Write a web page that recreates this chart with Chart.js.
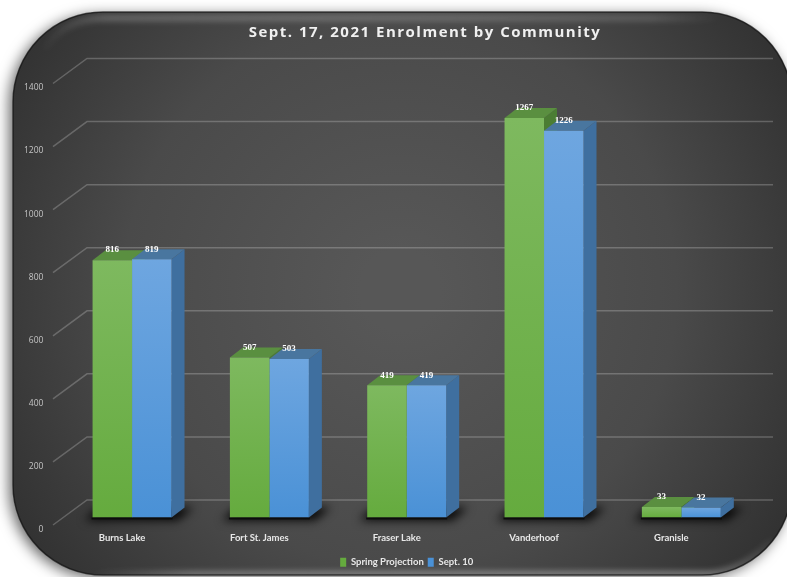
<!DOCTYPE html>
<html>
<head>
<meta charset="utf-8">
<title>Enrolment by Community</title>
<script src="https://cdn.jsdelivr.net/npm/chart.js@4"></script>
<style>
  html, body { margin: 0; padding: 0; background: #fff; overflow: hidden; }
  #myChart { display: block; filter: blur(0.5px); }
</style>
</head>
<body>
<canvas id="myChart" width="787" height="577"></canvas>
<script>
const chartTitle = "Sept. 17, 2021 Enrolment by Community";
const communities = ["Burns Lake", "Fort St. James", "Fraser Lake", "Vanderhoof", "Granisle"];
const springProjection = [816, 507, 419, 1267, 33];
const sept10 = [819, 503, 419, 1226, 32];
const yTicks = [0, 200, 400, 600, 800, 1000, 1200, 1400];

// depth of the fake 3d boxes
const depthX = 13;
const depthY = 10;

function cardPath(ctx) {
  const l = 13, t = 12, r = 792, b = 575, rad = 90;
  ctx.beginPath();
  ctx.moveTo(l + rad, t);
  ctx.arcTo(r, t, r, b, rad);
  ctx.arcTo(r, b, l, b, rad);
  ctx.arcTo(l, b, l, t, rad);
  ctx.arcTo(l, t, r, t, rad);
  ctx.closePath();
}

const cardPlugin = {
  id: "card",
  beforeDraw(chart) {
    const ctx = chart.ctx;
    ctx.save();
    ctx.shadowColor = "rgba(0,0,0,0.6)";
    ctx.shadowBlur = 14;
    ctx.shadowOffsetX = -4;
    ctx.shadowOffsetY = 3;
    cardPath(ctx);
    ctx.fillStyle = "#3a3a3a";
    ctx.fill();
    ctx.restore();

    ctx.save();
    cardPath(ctx);
    ctx.clip();
    const bg = ctx.createRadialGradient(400, 290, 40, 400, 290, 470);
    bg.addColorStop(0, "#575757");
    bg.addColorStop(0.55, "#4a4a4a");
    bg.addColorStop(1, "#2f2f2f");
    ctx.fillStyle = bg;
    ctx.fillRect(0, 0, 787, 577);

    // light bands along the top and bottom edge
    ctx.filter = "blur(3px)";
    ctx.lineWidth = 5;
    const topBand = ctx.createLinearGradient(40, 0, 720, 0);
    topBand.addColorStop(0, "rgba(255,255,255,0)");
    topBand.addColorStop(0.1, "rgba(255,255,255,0.3)");
    topBand.addColorStop(0.9, "rgba(255,255,255,0.22)");
    topBand.addColorStop(1, "rgba(255,255,255,0)");
    ctx.strokeStyle = topBand;
    ctx.beginPath();
    ctx.moveTo(44, 50);
    ctx.quadraticCurveTo(62, 19, 103, 18);
    ctx.lineTo(720, 18);
    ctx.stroke();
    ctx.lineWidth = 4;
    const bottomBand = ctx.createLinearGradient(90, 0, 780, 0);
    bottomBand.addColorStop(0, "rgba(255,255,255,0)");
    bottomBand.addColorStop(0.15, "rgba(255,255,255,0.45)");
    bottomBand.addColorStop(0.9, "rgba(255,255,255,0.55)");
    bottomBand.addColorStop(1, "rgba(255,255,255,0)");
    ctx.strokeStyle = bottomBand;
    ctx.beginPath();
    ctx.moveTo(95, 574);
    ctx.lineTo(710, 574);
    ctx.quadraticCurveTo(745, 570, 772, 540);
    ctx.stroke();
    ctx.restore();

    // dark rim on top
    ctx.save();
    ctx.strokeStyle = "rgba(20,20,20,0.7)";
    ctx.lineWidth = 1.5;
    cardPath(ctx);
    ctx.stroke();
    ctx.restore();
  },
  beforeDatasetsDraw(chart) {
    const ctx = chart.ctx;
    const y = chart.scales.y;
    ctx.save();

    // back wall lines and their diagonal floor part
    ctx.strokeStyle = "rgba(255,255,255,0.22)";
    ctx.lineWidth = 1.5;
    yTicks.forEach(function (v) {
      const py = y.getPixelForValue(v);
      ctx.beginPath();
      ctx.moveTo(53, py + 7.5);
      ctx.lineTo(87, py - 17.5);
      ctx.lineTo(773, py - 17.5);
      ctx.stroke();
    });

    // shadow on the floor
    const first = chart.getDatasetMeta(0).data;
    const second = chart.getDatasetMeta(1).data;
    first.forEach(function (bar, i) {
      const left = bar.x - bar.width / 2;
      const right = second[i].x + second[i].width / 2;
      ctx.save();
      ctx.filter = "blur(5px)";
      ctx.fillStyle = "rgba(0,0,0,0.9)";
      ctx.beginPath();
      ctx.moveTo(left - 8, bar.base + 3);
      ctx.lineTo(right + 6, bar.base + 3);
      ctx.lineTo(right + depthX + 9, bar.base - depthY);
      ctx.lineTo(left + 6, bar.base - depthY);
      ctx.closePath();
      ctx.fill();
      ctx.restore();
      ctx.fillStyle = "#0c0c0c";
      ctx.fillRect(left - 1, bar.base, right - left + 2, 2);
    });

    // side and top faces
    const faces = [
      { top: "#5a8f40", side: "#4b7d33", meta: first },
      { top: "#49769f", side: "#3f6f9f", meta: second }
    ];
    faces.forEach(function (f) {
      f.meta.forEach(function (bar) {
        const l = bar.x - bar.width / 2;
        const r = bar.x + bar.width / 2;
        ctx.fillStyle = f.side;
        ctx.beginPath();
        ctx.moveTo(r, bar.y);
        ctx.lineTo(r + depthX, bar.y - depthY);
        ctx.lineTo(r + depthX, bar.base - depthY);
        ctx.lineTo(r, bar.base);
        ctx.closePath();
        ctx.fill();
        ctx.fillStyle = f.top;
        ctx.beginPath();
        ctx.moveTo(l, bar.y);
        ctx.lineTo(l + depthX, bar.y - depthY);
        ctx.lineTo(r + depthX, bar.y - depthY);
        ctx.lineTo(r, bar.y);
        ctx.closePath();
        ctx.fill();
      });
    });
    ctx.restore();
  },
  afterDatasetsDraw(chart) {
    const ctx = chart.ctx;
    ctx.save();
    ctx.fillStyle = "#ffffff";
    ctx.textAlign = "center";
    ctx.textBaseline = "middle";
    ctx.font = "bold 9px 'Liberation Serif'";
    chart.data.datasets.forEach(function (ds, d) {
      chart.getDatasetMeta(d).data.forEach(function (bar, i) {
        ctx.fillText(ds.data[i], bar.x, bar.y - 10);
      });
    });
    // title, letter spaced like the original
    ctx.font = "bold 15px 'Open Sans'";
    ctx.letterSpacing = "1.5px";
    ctx.fillStyle = "#f0f0f0";
    ctx.fillText(chartTitle, 425, 33);
    ctx.restore();
  }
};

function faceColor(light, dark) {
  return function (context) {
    const chart = context.chart;
    if (!chart.chartArea || context.raw === undefined) return dark;
    const y = chart.scales.y;
    const g = chart.ctx.createLinearGradient(0, y.getPixelForValue(context.raw), 0, y.getPixelForValue(0));
    g.addColorStop(0, light);
    g.addColorStop(1, dark);
    return g;
  };
}

new Chart(document.getElementById("myChart").getContext("2d"), {
  type: "bar",
  data: {
    labels: communities,
    datasets: [
      { label: "Spring Projection", data: springProjection, backgroundColor: faceColor("#7eb95f", "#65ab3e") },
      { label: "Sept. 10", data: sept10, backgroundColor: faceColor("#6ea6e0", "#4a91d6") }
    ]
  },
  plugins: [cardPlugin],
  options: {
    responsive: false,
    animation: false,
    datasets: { bar: { categoryPercentage: 0.575, barPercentage: 1 } },
    layout: { padding: { top: 76, right: 37, bottom: 0, left: 0 } },
    scales: {
      x: {
        grid: { display: false, drawTicks: false },
        border: { display: false },
        ticks: {
          color: "#e8e8e8",
          padding: 15,
          labelOffset: -10,
          maxRotation: 0,
          font: { family: "Lato", size: 9.5, weight: "bold" }
        },
        afterFit(scale) { scale.height = 36; }
      },
      y: {
        min: 0,
        max: 1400,
        afterBuildTicks(scale) { scale.ticks = yTicks.map(function (v) { return { value: v }; }); },
        grid: { display: false, drawTicks: false },
        border: { display: false },
        ticks: {
          color: "#c4c4c4",
          padding: 20,
          labelOffset: 12,
          callback(v) { return String(v); },
          font: { family: "Open Sans", size: 8.5 }
        },
        afterFit(scale) { scale.width = 63.4; }
      }
    },
    plugins: {
      title: { display: false },
      tooltip: { enabled: false },
      legend: {
        position: "bottom",
        fullSize: false,
        labels: {
          color: "#e8e8e8",
          boxWidth: 6,
          boxHeight: 9,
          padding: 4,
          font: { family: "Lato", size: 9.5, weight: "bold" }
        }
      }
    }
  }
});
</script>
</body>
</html>
